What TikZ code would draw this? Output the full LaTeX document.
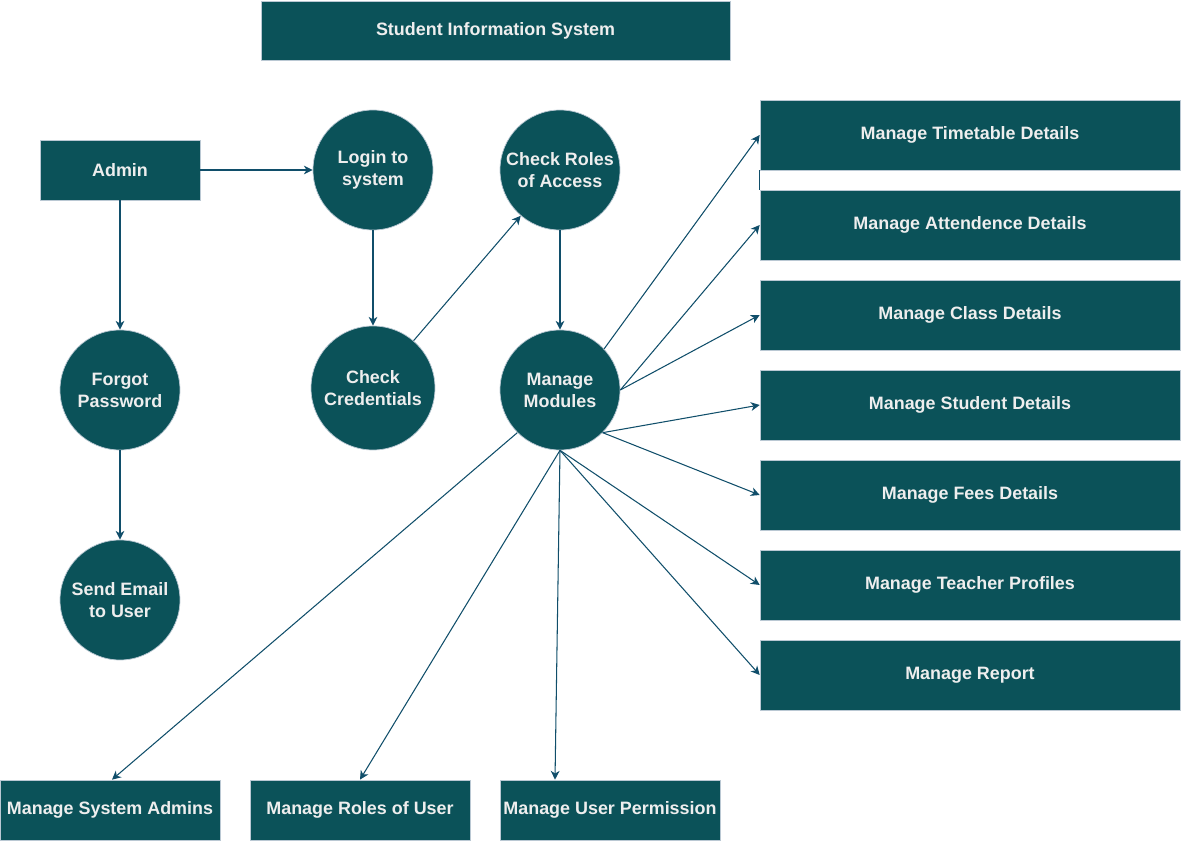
\documentclass[tikz,border=0pt]{standalone}
\usepackage{fontspec}
\setmainfont{Liberation Sans}
\usepackage{tikz}
\usetikzlibrary{arrows.meta,positioning}
\definecolor{mteal}{RGB}{11,82,89}
\definecolor{medge}{RGB}{186,200,211}
\definecolor{marrow}{RGB}{16,78,106}
\definecolor{mtext}{RGB}{238,238,238}

\begin{document}
\begin{tikzpicture}[
    x=0.02cm, y=-0.02cm,
    lbl/.style={text=mtext, font=\fontsize{10.2}{12.5}\selectfont\bfseries, align=center, inner sep=0pt},
    box/.style={lbl, draw=medge, fill=mteal, minimum width=8.4cm, minimum height=1.4cm},
    lowbox/.style={lbl, draw=medge, fill=mteal, minimum width=4.4cm, minimum height=1.2cm},
    proc/.style={lbl, circle, draw=medge, fill=mteal, minimum size=2.4cm},
    arr/.style={-{Stealth[length=5pt, width=5pt, inset=1.5pt]}, marrow, line width=0.6pt},
  ]
    \useasboundingbox (0,0) rectangle (1181,841);

    \node[lbl, draw=medge, fill=mteal, minimum width=9.38cm, minimum height=1.18cm] (title) at (495.5,30.5) {Student Information System};

    \node[lbl, draw=medge, fill=mteal, minimum width=3.2cm, minimum height=1.2cm] (admin) at (120,170) {Admin};
    \node[proc] (login)  at (373,170) {Login to\\system};
    \node[proc] (roles)  at (560,170) {Check Roles\\of Access};
    \node[proc] (forgot) at (120,390) {Forgot\\Password};
    \node[proc] (email)  at (120,600) {Send Email\\to User};
    \node[proc, minimum size=2.48cm] (cred) at (373,388) {Check\\Credentials};
    \node[proc] (mods)   at (560,390) {Manage\\Modules};

    % modules on the right
    \node[box] (tt)  at (970,135) {Manage Timetable Details};
    \node[box] (att) at (970,225) {Manage Attendence Details};
    \node[box] (cls) at (970,315) {Manage Class Details};
    \node[box] (stu) at (970,405) {Manage Student Details};
    \node[box] (fee) at (970,495) {Manage Fees Details};
    \node[box] (tch) at (970,585) {Manage Teacher Profiles};
    \node[box] (rep) at (970,675) {Manage Report};

    % modules below
    \node[lowbox] (sys)  at (110,810) {Manage System Admins};
    \node[lowbox] (urol) at (360,810) {Manage Roles of User};
    \node[lowbox] (perm) at (610,810) {Manage User Permission};

    \draw[arr] (admin) -- (login);
    \draw[arr] (admin) -- (forgot);
    \draw[arr] (forgot) -- (email);
    \draw[arr] (login) -- (cred);
    \draw[arr] (cred) -- (roles);
    \draw[arr] (roles) -- (mods);

    \draw[arr] (mods.43) -- (tt.west);
    \draw[arr] (mods.east) -- (att.west);
    \draw[arr] (mods.east) -- (cls.west);
    \draw[arr] (mods.-45) -- (stu.west);
    \draw[arr] (mods.-45) -- (fee.west);
    \draw[arr] (mods.south) -- (tch.west);
    \draw[arr] (mods.south) -- (rep.west);

    \draw[arr] (mods.225) -- ([xshift=0.04cm]sys.north);
    \draw[arr] (mods.south) -- (urol.north);
    \draw[arr] (mods.south) -- ([xshift=-1.1cm]perm.north);

    \draw[marrow, line width=0.6pt] (tt.south west) -- (att.north west);
  \end{tikzpicture}
\end{document}
